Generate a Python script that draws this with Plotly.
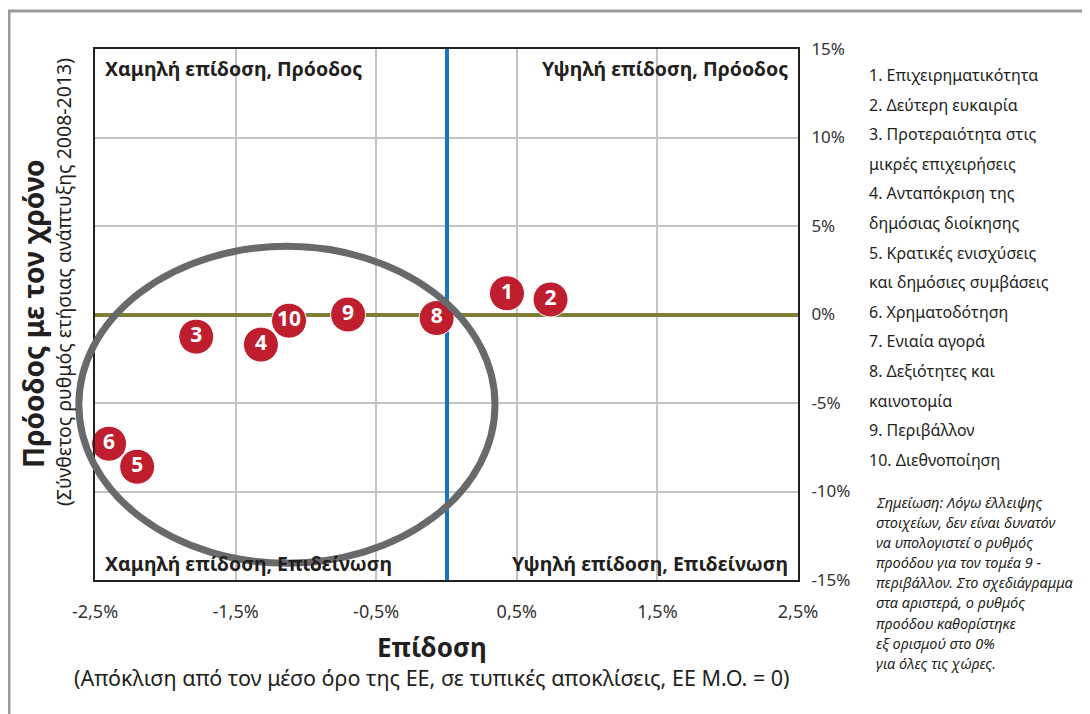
import plotly.graph_objects as go

# ---- data ----
ids = ["1", "2", "3", "4", "5", "6", "8", "9", "10"]
performance = [0.43, 0.74, -1.78, -1.32, -2.20, -2.40, -0.07, -0.70, -1.12]
progress = [1.2, 0.85, -1.25, -1.7, -8.6, -7.3, -0.2, 0.0, -0.35]

x_tickvals = [-2.5, -1.5, -0.5, 0.5, 1.5, 2.5]
x_ticktext = ["-2,5%", "-1,5%", "-0,5%", "0,5%", "1,5%", "2,5%"]
y_tickvals = [-15, -10, -5, 0, 5, 10, 15]
y_ticktext = ["-15%", "-10%", "-5%", "0%", "5%", "10%", "15%"]

legend_lines = [
    "1. Επιχειρηματικότητα", "2. Δεύτερη ευκαιρία", "3. Προτεραιότητα στις",
    "μικρές επιχειρήσεις", "4. Ανταπόκριση της", "δημόσιας διοίκησης",
    "5. Κρατικές ενισχύσεις", "και δημόσιες συμβάσεις", "6. Χρηματοδότηση",
    "7. Ενιαία αγορά", "8. Δεξιότητες και", "καινοτομία", "9. Περιβάλλον",
    "10. Διεθνοποίηση",
]
note_lines = [
    "Σημείωση: Λόγω έλλειψης", "στοιχείων, δεν είναι δυνατόν",
    "να υπολογιστεί ο ρυθμός", "προόδου για τον τομέα 9 -",
    "περιβάλλον. Στο σχεδιάγραμμα", "στα αριστερά, ο ρυθμός",
    "προόδου καθορίστηκε", "εξ ορισμού στο 0%", "για όλες τις χώρες.",
]
quadrants = [
    ("Χαμηλή επίδοση, Πρόοδος", "left", "top"),
    ("Υψηλή επίδοση, Πρόοδος", "right", "top"),
    ("Χαμηλή επίδοση, Επιδείνωση", "left", "bottom"),
    ("Υψηλή επίδοση, Επιδείνωση", "right", "bottom"),
]
# ellipse highlighting the low-performance group (data units)
ell_cx, ell_cy, ell_rx, ell_ry = -1.135, -5.1, 1.48, 8.95

X_RANGE = [-2.5, 2.5]
Y_RANGE = [-15, 15]

# ---- layout geometry (page has an 8px body margin) ----
OFF = 8
W, H = 1090 - OFF, 714 - OFF
PLOT_L, PLOT_R, PLOT_T, PLOT_B = 95, 798, 49, 580  # screen pixels
L, T = PLOT_L - OFF, PLOT_T - OFF
R, B = W - (PLOT_R - OFF), H - (PLOT_B - OFF)
PW, PH = PLOT_R - PLOT_L, PLOT_B - PLOT_T
FONT = "Noto Sans"


def px(xs):
    return (xs - PLOT_L) / PW


def py(ys):
    return (PLOT_B - ys) / PH


def dx(v):
    return (v - X_RANGE[0]) / (X_RANGE[1] - X_RANGE[0])


def dy(v):
    return (v - Y_RANGE[0]) / (Y_RANGE[1] - Y_RANGE[0])


fig = go.Figure()
fig.add_trace(go.Scatter(
    x=performance, y=progress, mode="markers+text", text=ids,
    textposition="middle center", cliponaxis=False,
    marker=dict(size=35, color="#be1e2d", line=dict(color="white", width=1)),
    textfont=dict(family=FONT, size=21, color="white", weight="bold"),
    hoverinfo="skip", showlegend=False,
))

shapes = [
    dict(type="circle", xref="paper", yref="paper",
         x0=dx(ell_cx - ell_rx), x1=dx(ell_cx + ell_rx),
         y0=dy(ell_cy - ell_ry), y1=dy(ell_cy + ell_ry),
         line=dict(color="#68696b", width=7), layer="above"),
    dict(type="rect", xref="paper", yref="paper",
         x0=px(9), x1=px(1110), y0=py(740), y1=py(11),
         line=dict(color="#9b9b9b", width=3), layer="below"),
]

annotations = []
for text, hpos, vpos in quadrants:
    annotations.append(dict(
        text=f"<b>{text}</b>", xref="paper", yref="paper",
        x=px(103) if hpos == "left" else px(790),
        y=py(68) if vpos == "top" else py(563),
        xanchor="left" if hpos == "left" else "right", yanchor="middle",
        showarrow=False, font=dict(family=FONT, size=19.5, color="#231f20")))

for i, line in enumerate(legend_lines):
    annotations.append(dict(
        text=line, xref="paper", yref="paper", x=px(867), y=py(75 + 29.6 * i),
        xanchor="left", yanchor="middle", showarrow=False,
        font=dict(family=FONT, size=16, color="#231f20")))

for i, line in enumerate(note_lines):
    annotations.append(dict(
        text=f"<i>{line}</i>", xref="paper", yref="paper", x=px(874), y=py(502 + 20.1 * i),
        xanchor="left", yanchor="middle", showarrow=False,
        font=dict(family=FONT, size=14.5, color="#231f20")))

annotations += [
    dict(text="<b>Πρόοδος με τον χρόνο</b>", xref="paper", yref="paper",
         x=px(33), y=py(314), textangle=-90, showarrow=False,
         xanchor="center", yanchor="middle",
         font=dict(family=FONT, size=28, color="#231f20")),
    dict(text="(Σύνθετος ρυθμός ετήσιας ανάπτυξης 2008-2013)", xref="paper", yref="paper",
         x=px(63), y=py(282), textangle=-90, showarrow=False,
         xanchor="center", yanchor="middle",
         font=dict(family=FONT, size=19.5, color="#231f20")),
    dict(text="<b>Επίδοση</b>", xref="paper", yref="paper",
         x=px(432), y=py(647), showarrow=False, xanchor="center", yanchor="middle",
         font=dict(family=FONT, size=26, color="#231f20")),
    dict(text="(Απόκλιση από τον μέσο όρο της ΕΕ, σε τυπικές αποκλίσεις, ΕΕ Μ.Ο. = 0)",
         xref="paper", yref="paper", x=px(432), y=py(677), showarrow=False,
         xanchor="center", yanchor="middle",
         font=dict(family=FONT, size=21.5, color="#231f20")),
]

fig.update_layout(
    width=W, height=H,
    margin=dict(l=L, r=R, t=T, b=B, pad=0),
    paper_bgcolor="white", plot_bgcolor="rgba(0,0,0,0)",
    font=dict(family=FONT, color="#231f20"),
    shapes=shapes, annotations=annotations,
    xaxis=dict(range=X_RANGE, tickvals=x_tickvals, ticktext=x_ticktext,
               showgrid=True, gridcolor="#c4c4c4", gridwidth=1.5,
               zeroline=True, zerolinecolor="#1b75bc", zerolinewidth=3.5,
               showline=True, linecolor="#231f20", linewidth=2, mirror=True,
               ticks="", ticklabelstandoff=14,
               tickfont=dict(family=FONT, size=18, color="#333")),
    yaxis=dict(range=Y_RANGE, tickvals=y_tickvals, ticktext=y_ticktext, side="right",
               showgrid=True, gridcolor="#c4c4c4", gridwidth=1.5,
               zeroline=True, zerolinecolor="#7f7f33", zerolinewidth=4,
               showline=True, linecolor="#231f20", linewidth=2, mirror=True,
               ticks="", ticklabelstandoff=8,
               tickfont=dict(family=FONT, size=17, color="#333")),
)

fig.write_html("out.html")
